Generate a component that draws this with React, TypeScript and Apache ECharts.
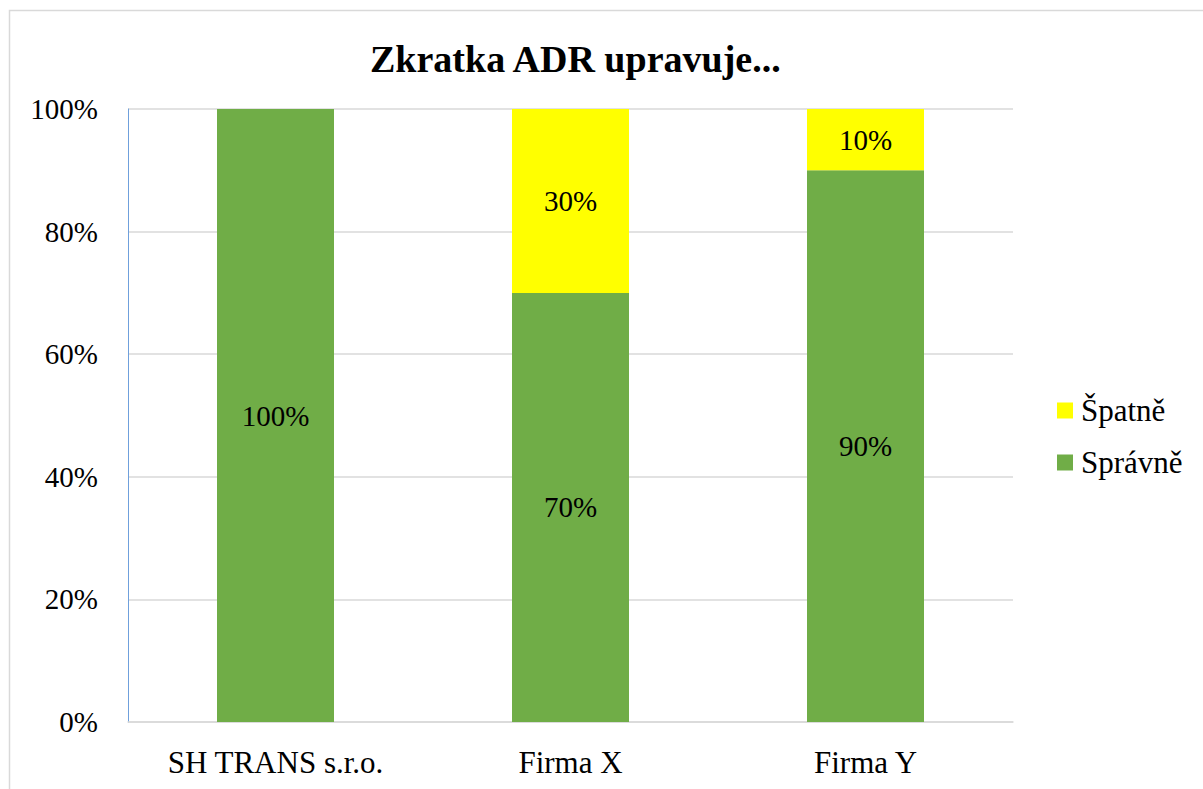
import React, { useEffect, useRef } from "react";
import * as echarts from "echarts";

const categories = ["SH TRANS s.r.o.", "Firma X", "Firma Y"];
const spravne = [1.0, 0.7, 0.9];
const spatne = [0.0, 0.3, 0.1];
const legendNames = ["Špatně", "Správně"];
const titleText = "Zkratka ADR upravuje...";

const FONT = "Liberation Serif";

export default function App() {
  const ref = useRef<HTMLDivElement>(null);
  useEffect(() => {
    document.body.style.margin = "0";
    const chart = echarts.init(ref.current!, null, { renderer: "svg" });
    const pct = (v: number) => Math.round(v * 100) + "%";
    const barLabel = {
      show: true,
      position: "inside",
      fontFamily: FONT,
      fontSize: 29,
      color: "#000",
      formatter: (p: any) => (p.value ? pct(p.value) : ""),
    };
    chart.setOption({
      animation: false,
      backgroundColor: "#ffffff",
      textStyle: { fontFamily: FONT, color: "#000" },
      graphic: [
        {
          type: "rect",
          shape: { x: 9.5, y: 10.5, width: 1220, height: 800 },
          style: { fill: "none", stroke: "#d9d9d9", lineWidth: 1.5 },
          silent: true,
        },
      ],
      title: {
        text: titleText,
        left: 370,
        top: 40,
        padding: 0,
        textStyle: { fontFamily: FONT, fontSize: 38, fontWeight: "bold", color: "#000", lineHeight: 38 },
      },
      legend: {
        data: legendNames,
        orient: "vertical",
        left: 1057,
        top: 395,
        padding: 0,
        itemWidth: 16,
        itemHeight: 16,
        itemGap: 21,
        icon: "rect",
        textStyle: { fontFamily: FONT, fontSize: 31, lineHeight: 31, color: "#000", padding: [0, 0, 0, 3] },
      },
      grid: { left: 128, right: 190, top: 109, bottom: 67 },
      xAxis: {
        type: "category",
        data: categories,
        axisLine: { show: true, lineStyle: { color: "#d9d9d9", width: 1.5 } },
        axisTick: { show: false },
        axisLabel: { fontFamily: FONT, fontSize: 31, color: "#000", margin: 25 },
      },
      yAxis: {
        type: "value",
        min: 0,
        max: 1,
        interval: 0.2,
        axisLine: { show: true, lineStyle: { color: "#6fa0dc", width: 1 } },
        axisTick: { show: false },
        splitLine: { show: true, lineStyle: { color: "#d9d9d9", width: 1.5 } },
        axisLabel: {
          fontFamily: FONT,
          fontSize: 29,
          color: "#000",
          margin: 30,
          formatter: (v: number) => pct(v),
        },
      },
      series: [
        {
          name: "Správně",
          type: "bar",
          stack: "a",
          data: spravne,
          barWidth: 117,
          itemStyle: { color: "#70ad47" },
          label: barLabel,
        },
        {
          name: "Špatně",
          type: "bar",
          stack: "a",
          data: spatne,
          barWidth: 117,
          itemStyle: { color: "#ffff00" },
          label: barLabel,
        },
      ],
    });
    return () => chart.dispose();
  }, []);
  return <div ref={ref} style={{ width: 1203, height: 789 }} />;
}
